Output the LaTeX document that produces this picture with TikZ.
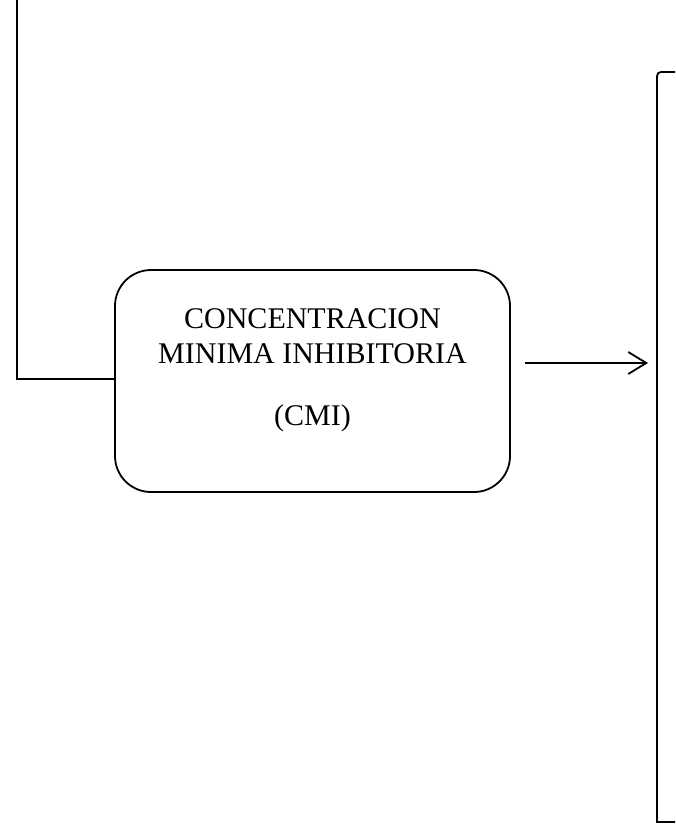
\documentclass[tikz,border=0pt]{standalone}
\usepackage{fontspec}
\setmainfont{Liberation Serif}
\usetikzlibrary{arrows.meta, positioning, calc}
\tikzset{
  every picture/.style={line width=1.8pt},
  procbox/.style={draw, rounded corners=36pt, minimum width=395pt, minimum height=222pt, inner sep=0pt},
  boxtext/.style={align=center, font=\fontsize{30pt}{35pt}\selectfont, inner sep=0pt},
  link/.style={draw, line width=1.8pt},
  arrow/.style={-{Straight Barb[length=18pt, width=22pt, line width=1.8pt]}, line width=1.8pt},
}
\begin{document}
\begin{tikzpicture}[x=1pt, y=-1pt]
  \useasboundingbox (0,0) rectangle (675,827);
  % main box
  \node[procbox] (cmi) at (312.5,381) {};
  \node[boxtext] (cmilabel) at ([yshift=11pt]cmi.center) {CONCENTRACION\\MINIMA INHIBITORIA\\[27pt](CMI)};
  % incoming line from above
  \coordinate (feed) at (17,0);
  \draw[link] (feed) |- ([yshift=2pt]cmi.west);
  % bracket on the right
  \coordinate (brtop) at (675,72);
  \coordinate (brbot) at (675,822);
  \draw[link] (brtop) [rounded corners=4pt] -- (657,72) [sharp corners] -- (657,822) -- (brbot);
  % arrow into the bracket
  \coordinate (arrfrom) at (525,363);
  \coordinate (arrto) at (648,363);
  \draw[arrow] (arrfrom) -- (arrto);
\end{tikzpicture}
\end{document}
